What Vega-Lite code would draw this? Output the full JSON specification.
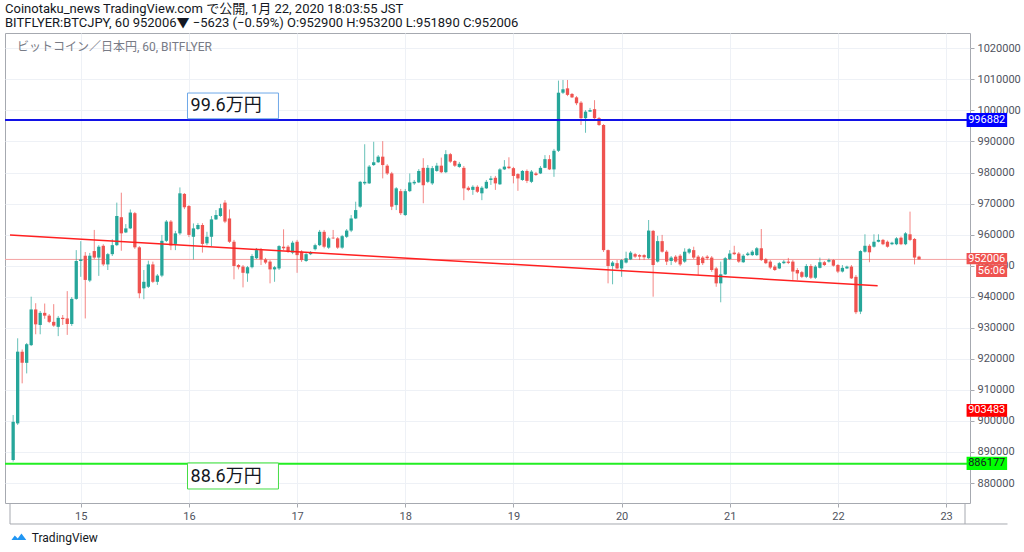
{
  "$schema": "https://vega.github.io/schema/vega-lite/v6.json",
  "width": 965,
  "height": 470,
  "autosize": {"type": "none"},
  "padding": {"left": 5, "top": 33, "right": 54, "bottom": 49},
  "background": "white",
  "config": {
    "font": "Roboto, 'Noto Sans CJK JP', sans-serif",
    "view": {"stroke": "#a6a9b0", "strokeWidth": 1},
    "axis": {
      "domain": false,
      "grid": true,
      "gridColor": "#eef1f6",
      "tickColor": "#a6a9b0",
      "tickSize": 4,
      "labelFontSize": 11,
      "labelColor": "#50535e",
      "labelPadding": 3,
      "zindex": 0
    },
    "axisY": {"tickCount": 15, "labelOverlap": false, "labelFlush": false, "format": "d"}
  },
  "title": {
    "text": "Coinotaku_news TradingView.com で公開, 1月 22, 2020 18:03:55 JST",
    "subtitle": "BITFLYER:BTCJPY, 60 952006▼ −5623 (−0.59%) O:952900 H:953200 L:951890 C:952006",
    "anchor": "start",
    "frame": "group",
    "fontSize": 13,
    "fontWeight": "normal",
    "color": "#131722",
    "subtitleFontSize": 13,
    "subtitleColor": "#131722",
    "subtitlePadding": 1,
    "offset": 3
  },
  "datasets": {
    "btc": [
      {"t": "2020-01-14T09:00", "o": 887400, "h": 901900, "l": 886900, "c": 899700},
      {"t": "2020-01-14T10:00", "o": 899200, "h": 926600, "l": 898700, "c": 922300},
      {"t": "2020-01-14T11:00", "o": 922300, "h": 923000, "l": 912100, "c": 918700},
      {"t": "2020-01-14T12:00", "o": 918700, "h": 925100, "l": 915300, "c": 924700},
      {"t": "2020-01-14T13:00", "o": 924400, "h": 940000, "l": 924100, "c": 935900},
      {"t": "2020-01-14T14:00", "o": 935900, "h": 937900, "l": 927900, "c": 931100},
      {"t": "2020-01-14T15:00", "o": 930900, "h": 935400, "l": 927900, "c": 934800},
      {"t": "2020-01-14T16:00", "o": 934800, "h": 937800, "l": 932900, "c": 933900},
      {"t": "2020-01-14T17:00", "o": 933900, "h": 934400, "l": 931500, "c": 931900},
      {"t": "2020-01-14T18:00", "o": 931900, "h": 937600, "l": 930300, "c": 930700},
      {"t": "2020-01-14T19:00", "o": 930300, "h": 933800, "l": 927300, "c": 933200},
      {"t": "2020-01-14T20:00", "o": 933200, "h": 934100, "l": 930900, "c": 932800},
      {"t": "2020-01-14T21:00", "o": 933000, "h": 941800, "l": 927700, "c": 931200},
      {"t": "2020-01-14T22:00", "o": 931200, "h": 939900, "l": 930600, "c": 939300},
      {"t": "2020-01-14T23:00", "o": 939300, "h": 955000, "l": 939000, "c": 951500},
      {"t": "2020-01-15T00:00", "o": 951500, "h": 957900, "l": 946400, "c": 952000},
      {"t": "2020-01-15T01:00", "o": 953200, "h": 954400, "l": 933000, "c": 945400},
      {"t": "2020-01-15T02:00", "o": 945200, "h": 954100, "l": 944700, "c": 953200},
      {"t": "2020-01-15T03:00", "o": 954700, "h": 961500, "l": 952100, "c": 952600},
      {"t": "2020-01-15T04:00", "o": 952600, "h": 956600, "l": 946700, "c": 956100},
      {"t": "2020-01-15T05:00", "o": 956400, "h": 956900, "l": 949900, "c": 950400},
      {"t": "2020-01-15T06:00", "o": 950400, "h": 954100, "l": 948600, "c": 953700},
      {"t": "2020-01-15T07:00", "o": 953700, "h": 958500, "l": 953100, "c": 956600},
      {"t": "2020-01-15T08:00", "o": 956600, "h": 970300, "l": 956300, "c": 966000},
      {"t": "2020-01-15T09:00", "o": 965600, "h": 973500, "l": 954800, "c": 960400},
      {"t": "2020-01-15T10:00", "o": 960700, "h": 963400, "l": 960500, "c": 962000},
      {"t": "2020-01-15T11:00", "o": 962000, "h": 968100, "l": 961800, "c": 967100},
      {"t": "2020-01-15T12:00", "o": 966900, "h": 967300, "l": 955400, "c": 955900},
      {"t": "2020-01-15T13:00", "o": 955900, "h": 956300, "l": 939500, "c": 941100},
      {"t": "2020-01-15T14:00", "o": 942700, "h": 948600, "l": 939200, "c": 944800},
      {"t": "2020-01-15T15:00", "o": 943200, "h": 951600, "l": 942800, "c": 950400},
      {"t": "2020-01-15T16:00", "o": 950400, "h": 951300, "l": 944400, "c": 944800},
      {"t": "2020-01-15T17:00", "o": 944800, "h": 947300, "l": 943800, "c": 946800},
      {"t": "2020-01-15T18:00", "o": 946800, "h": 959900, "l": 946300, "c": 958000},
      {"t": "2020-01-15T19:00", "o": 958000, "h": 964700, "l": 957600, "c": 964200},
      {"t": "2020-01-15T20:00", "o": 964200, "h": 964700, "l": 955000, "c": 956500},
      {"t": "2020-01-15T21:00", "o": 957000, "h": 961200, "l": 955000, "c": 960400},
      {"t": "2020-01-15T22:00", "o": 960400, "h": 975200, "l": 959900, "c": 973300},
      {"t": "2020-01-15T23:00", "o": 973100, "h": 973400, "l": 968200, "c": 968800},
      {"t": "2020-01-16T00:00", "o": 969200, "h": 969500, "l": 959200, "c": 959900},
      {"t": "2020-01-16T01:00", "o": 959300, "h": 963600, "l": 952000, "c": 962000},
      {"t": "2020-01-16T02:00", "o": 961800, "h": 963700, "l": 961500, "c": 963100},
      {"t": "2020-01-16T03:00", "o": 963100, "h": 963700, "l": 954200, "c": 957000},
      {"t": "2020-01-16T04:00", "o": 957200, "h": 960900, "l": 956600, "c": 959300},
      {"t": "2020-01-16T05:00", "o": 959300, "h": 966000, "l": 956300, "c": 964900},
      {"t": "2020-01-16T06:00", "o": 964900, "h": 967900, "l": 964700, "c": 966300},
      {"t": "2020-01-16T07:00", "o": 966000, "h": 969900, "l": 965700, "c": 968500},
      {"t": "2020-01-16T08:00", "o": 970300, "h": 971100, "l": 963700, "c": 964200},
      {"t": "2020-01-16T09:00", "o": 965200, "h": 968100, "l": 957300, "c": 957700},
      {"t": "2020-01-16T10:00", "o": 957700, "h": 958300, "l": 945600, "c": 949900},
      {"t": "2020-01-16T11:00", "o": 950200, "h": 950500, "l": 948800, "c": 949500},
      {"t": "2020-01-16T12:00", "o": 949700, "h": 950200, "l": 943000, "c": 947700},
      {"t": "2020-01-16T13:00", "o": 947500, "h": 949900, "l": 944800, "c": 949500},
      {"t": "2020-01-16T14:00", "o": 949500, "h": 953700, "l": 949100, "c": 953100},
      {"t": "2020-01-16T15:00", "o": 952400, "h": 955700, "l": 952100, "c": 955000},
      {"t": "2020-01-16T16:00", "o": 955000, "h": 955700, "l": 950200, "c": 952000},
      {"t": "2020-01-16T17:00", "o": 952000, "h": 952500, "l": 950500, "c": 951000},
      {"t": "2020-01-16T18:00", "o": 951300, "h": 951800, "l": 944300, "c": 948800},
      {"t": "2020-01-16T19:00", "o": 948800, "h": 949900, "l": 944800, "c": 949500},
      {"t": "2020-01-16T20:00", "o": 949100, "h": 956600, "l": 948600, "c": 956300},
      {"t": "2020-01-16T21:00", "o": 956100, "h": 961700, "l": 955000, "c": 955600},
      {"t": "2020-01-16T22:00", "o": 956100, "h": 956600, "l": 954100, "c": 954500},
      {"t": "2020-01-16T23:00", "o": 954200, "h": 958000, "l": 953700, "c": 957400},
      {"t": "2020-01-17T00:00", "o": 957700, "h": 958300, "l": 947700, "c": 953400},
      {"t": "2020-01-17T01:00", "o": 954500, "h": 955000, "l": 951200, "c": 951800},
      {"t": "2020-01-17T02:00", "o": 951500, "h": 954400, "l": 951200, "c": 953700},
      {"t": "2020-01-17T03:00", "o": 953700, "h": 954700, "l": 953400, "c": 954200},
      {"t": "2020-01-17T04:00", "o": 955300, "h": 957100, "l": 954900, "c": 956600},
      {"t": "2020-01-17T05:00", "o": 956600, "h": 961500, "l": 956300, "c": 960900},
      {"t": "2020-01-17T06:00", "o": 960900, "h": 961500, "l": 955600, "c": 956100},
      {"t": "2020-01-17T07:00", "o": 955800, "h": 959300, "l": 955400, "c": 958800},
      {"t": "2020-01-17T08:00", "o": 959000, "h": 961500, "l": 958600, "c": 958800},
      {"t": "2020-01-17T09:00", "o": 958800, "h": 959200, "l": 955400, "c": 955800},
      {"t": "2020-01-17T10:00", "o": 955800, "h": 959900, "l": 955400, "c": 959500},
      {"t": "2020-01-17T11:00", "o": 959300, "h": 961800, "l": 958900, "c": 961300},
      {"t": "2020-01-17T12:00", "o": 961300, "h": 966300, "l": 960800, "c": 965200},
      {"t": "2020-01-17T13:00", "o": 965200, "h": 970600, "l": 965000, "c": 967900},
      {"t": "2020-01-17T14:00", "o": 969000, "h": 977300, "l": 968600, "c": 977000},
      {"t": "2020-01-17T15:00", "o": 976500, "h": 989100, "l": 976000, "c": 977000},
      {"t": "2020-01-17T16:00", "o": 976500, "h": 982400, "l": 976300, "c": 981900},
      {"t": "2020-01-17T17:00", "o": 982400, "h": 989900, "l": 982100, "c": 983300},
      {"t": "2020-01-17T18:00", "o": 983300, "h": 985600, "l": 983100, "c": 985100},
      {"t": "2020-01-17T19:00", "o": 985100, "h": 990100, "l": 978100, "c": 982400},
      {"t": "2020-01-17T20:00", "o": 982200, "h": 982700, "l": 979200, "c": 979700},
      {"t": "2020-01-17T21:00", "o": 979700, "h": 980200, "l": 967900, "c": 969000},
      {"t": "2020-01-17T22:00", "o": 969500, "h": 975300, "l": 967900, "c": 974900},
      {"t": "2020-01-17T23:00", "o": 974000, "h": 974700, "l": 966300, "c": 966900},
      {"t": "2020-01-18T00:00", "o": 966300, "h": 974700, "l": 966000, "c": 974000},
      {"t": "2020-01-18T01:00", "o": 974000, "h": 979700, "l": 973700, "c": 976800},
      {"t": "2020-01-18T02:00", "o": 976500, "h": 977600, "l": 976000, "c": 977000},
      {"t": "2020-01-18T03:00", "o": 976800, "h": 981100, "l": 976600, "c": 980500},
      {"t": "2020-01-18T04:00", "o": 981500, "h": 984600, "l": 970100, "c": 975900},
      {"t": "2020-01-18T05:00", "o": 977000, "h": 982400, "l": 976600, "c": 981500},
      {"t": "2020-01-18T06:00", "o": 976500, "h": 982100, "l": 976000, "c": 981400},
      {"t": "2020-01-18T07:00", "o": 980500, "h": 983100, "l": 980200, "c": 982200},
      {"t": "2020-01-18T08:00", "o": 982200, "h": 984800, "l": 979800, "c": 980100},
      {"t": "2020-01-18T09:00", "o": 980100, "h": 987200, "l": 979800, "c": 985900},
      {"t": "2020-01-18T10:00", "o": 985900, "h": 986300, "l": 983100, "c": 983500},
      {"t": "2020-01-18T11:00", "o": 983700, "h": 984000, "l": 981800, "c": 982200},
      {"t": "2020-01-18T12:00", "o": 981800, "h": 983400, "l": 981500, "c": 982800},
      {"t": "2020-01-18T13:00", "o": 981500, "h": 982100, "l": 971100, "c": 974900},
      {"t": "2020-01-18T14:00", "o": 975100, "h": 975600, "l": 974000, "c": 974400},
      {"t": "2020-01-18T15:00", "o": 974400, "h": 975900, "l": 972800, "c": 975400},
      {"t": "2020-01-18T16:00", "o": 975400, "h": 975900, "l": 973400, "c": 973800},
      {"t": "2020-01-18T17:00", "o": 973300, "h": 975600, "l": 971100, "c": 975100},
      {"t": "2020-01-18T18:00", "o": 974900, "h": 977600, "l": 974700, "c": 977000},
      {"t": "2020-01-18T19:00", "o": 977600, "h": 978900, "l": 976000, "c": 978100},
      {"t": "2020-01-18T20:00", "o": 978300, "h": 978900, "l": 974400, "c": 976500},
      {"t": "2020-01-18T21:00", "o": 976200, "h": 981400, "l": 976000, "c": 981000},
      {"t": "2020-01-18T22:00", "o": 981000, "h": 984000, "l": 980800, "c": 981900},
      {"t": "2020-01-18T23:00", "o": 981900, "h": 984900, "l": 981100, "c": 981400},
      {"t": "2020-01-19T00:00", "o": 981400, "h": 981800, "l": 976500, "c": 978900},
      {"t": "2020-01-19T01:00", "o": 979500, "h": 979800, "l": 974100, "c": 978100},
      {"t": "2020-01-19T02:00", "o": 977600, "h": 980800, "l": 977300, "c": 980500},
      {"t": "2020-01-19T03:00", "o": 980500, "h": 981000, "l": 976600, "c": 977300},
      {"t": "2020-01-19T04:00", "o": 977000, "h": 980800, "l": 976600, "c": 980300},
      {"t": "2020-01-19T05:00", "o": 979700, "h": 980200, "l": 978900, "c": 979200},
      {"t": "2020-01-19T06:00", "o": 979700, "h": 982100, "l": 979500, "c": 981500},
      {"t": "2020-01-19T07:00", "o": 981500, "h": 985600, "l": 981400, "c": 984300},
      {"t": "2020-01-19T08:00", "o": 984300, "h": 985600, "l": 980800, "c": 981000},
      {"t": "2020-01-19T09:00", "o": 981000, "h": 987600, "l": 978600, "c": 987000},
      {"t": "2020-01-19T10:00", "o": 987000, "h": 1009600, "l": 986600, "c": 1005700},
      {"t": "2020-01-19T11:00", "o": 1005700, "h": 1009800, "l": 1005300, "c": 1006800},
      {"t": "2020-01-19T12:00", "o": 1007100, "h": 1009800, "l": 1004600, "c": 1005000},
      {"t": "2020-01-19T13:00", "o": 1005300, "h": 1005600, "l": 1004000, "c": 1004200},
      {"t": "2020-01-19T14:00", "o": 1004200, "h": 1004600, "l": 1001700, "c": 1002300},
      {"t": "2020-01-19T15:00", "o": 1002500, "h": 1003000, "l": 995300, "c": 997500},
      {"t": "2020-01-19T16:00", "o": 997500, "h": 1000100, "l": 992800, "c": 999600},
      {"t": "2020-01-19T17:00", "o": 999600, "h": 1000800, "l": 999500, "c": 1000100},
      {"t": "2020-01-19T18:00", "o": 1000400, "h": 1003300, "l": 997200, "c": 997500},
      {"t": "2020-01-19T19:00", "o": 997500, "h": 997900, "l": 995000, "c": 995300},
      {"t": "2020-01-19T20:00", "o": 995300, "h": 995600, "l": 954400, "c": 955000},
      {"t": "2020-01-19T21:00", "o": 955000, "h": 955200, "l": 944300, "c": 949900},
      {"t": "2020-01-19T22:00", "o": 949900, "h": 951500, "l": 944000, "c": 951000},
      {"t": "2020-01-19T23:00", "o": 950800, "h": 951800, "l": 948900, "c": 949100},
      {"t": "2020-01-20T00:00", "o": 949100, "h": 952100, "l": 946400, "c": 951800},
      {"t": "2020-01-20T01:00", "o": 951000, "h": 954500, "l": 950700, "c": 952400},
      {"t": "2020-01-20T02:00", "o": 952000, "h": 954700, "l": 951800, "c": 954200},
      {"t": "2020-01-20T03:00", "o": 953700, "h": 954100, "l": 952500, "c": 952900},
      {"t": "2020-01-20T04:00", "o": 953400, "h": 953700, "l": 951800, "c": 952900},
      {"t": "2020-01-20T05:00", "o": 953400, "h": 953700, "l": 951800, "c": 952700},
      {"t": "2020-01-20T06:00", "o": 952400, "h": 964700, "l": 952100, "c": 961300},
      {"t": "2020-01-20T07:00", "o": 961200, "h": 961500, "l": 940000, "c": 950200},
      {"t": "2020-01-20T08:00", "o": 951300, "h": 959600, "l": 951000, "c": 957900},
      {"t": "2020-01-20T09:00", "o": 957900, "h": 959900, "l": 954200, "c": 954500},
      {"t": "2020-01-20T10:00", "o": 954500, "h": 955000, "l": 950200, "c": 951300},
      {"t": "2020-01-20T11:00", "o": 951500, "h": 953100, "l": 950200, "c": 952600},
      {"t": "2020-01-20T12:00", "o": 952900, "h": 953400, "l": 950900, "c": 951300},
      {"t": "2020-01-20T13:00", "o": 953200, "h": 953700, "l": 949900, "c": 950400},
      {"t": "2020-01-20T14:00", "o": 951300, "h": 955600, "l": 950900, "c": 954500},
      {"t": "2020-01-20T15:00", "o": 954200, "h": 955700, "l": 953700, "c": 955300},
      {"t": "2020-01-20T16:00", "o": 955000, "h": 956100, "l": 952100, "c": 952600},
      {"t": "2020-01-20T17:00", "o": 952900, "h": 953400, "l": 947000, "c": 950200},
      {"t": "2020-01-20T18:00", "o": 952600, "h": 953100, "l": 950200, "c": 950800},
      {"t": "2020-01-20T19:00", "o": 952900, "h": 953400, "l": 951800, "c": 952400},
      {"t": "2020-01-20T20:00", "o": 952600, "h": 953100, "l": 948000, "c": 948600},
      {"t": "2020-01-20T21:00", "o": 949100, "h": 949600, "l": 943200, "c": 944300},
      {"t": "2020-01-20T22:00", "o": 944300, "h": 951300, "l": 938200, "c": 947200},
      {"t": "2020-01-20T23:00", "o": 947200, "h": 952800, "l": 947000, "c": 952400},
      {"t": "2020-01-21T00:00", "o": 952100, "h": 955000, "l": 951800, "c": 953900},
      {"t": "2020-01-21T01:00", "o": 954200, "h": 956400, "l": 953400, "c": 953700},
      {"t": "2020-01-21T02:00", "o": 953900, "h": 954400, "l": 950900, "c": 951300},
      {"t": "2020-01-21T03:00", "o": 951100, "h": 953700, "l": 950900, "c": 953200},
      {"t": "2020-01-21T04:00", "o": 953400, "h": 954400, "l": 953100, "c": 953900},
      {"t": "2020-01-21T05:00", "o": 953400, "h": 955000, "l": 953100, "c": 954500},
      {"t": "2020-01-21T06:00", "o": 953400, "h": 956000, "l": 953100, "c": 955600},
      {"t": "2020-01-21T07:00", "o": 955600, "h": 961800, "l": 951500, "c": 951800},
      {"t": "2020-01-21T08:00", "o": 952100, "h": 952500, "l": 950500, "c": 950800},
      {"t": "2020-01-21T09:00", "o": 951300, "h": 951800, "l": 948900, "c": 949400},
      {"t": "2020-01-21T10:00", "o": 949700, "h": 950200, "l": 948300, "c": 948600},
      {"t": "2020-01-21T11:00", "o": 949100, "h": 951200, "l": 948900, "c": 950800},
      {"t": "2020-01-21T12:00", "o": 950800, "h": 951800, "l": 950500, "c": 951300},
      {"t": "2020-01-21T13:00", "o": 951300, "h": 952500, "l": 950500, "c": 950900},
      {"t": "2020-01-21T14:00", "o": 951300, "h": 951800, "l": 945400, "c": 948100},
      {"t": "2020-01-21T15:00", "o": 948600, "h": 949200, "l": 945400, "c": 947500},
      {"t": "2020-01-21T16:00", "o": 947900, "h": 948300, "l": 946000, "c": 946400},
      {"t": "2020-01-21T17:00", "o": 946400, "h": 950500, "l": 946000, "c": 949900},
      {"t": "2020-01-21T18:00", "o": 949900, "h": 950500, "l": 945700, "c": 946100},
      {"t": "2020-01-21T19:00", "o": 946100, "h": 950200, "l": 945700, "c": 949700},
      {"t": "2020-01-21T20:00", "o": 949300, "h": 952600, "l": 949100, "c": 951100},
      {"t": "2020-01-21T21:00", "o": 951100, "h": 951500, "l": 949900, "c": 950200},
      {"t": "2020-01-21T22:00", "o": 951300, "h": 952300, "l": 951000, "c": 951800},
      {"t": "2020-01-21T23:00", "o": 951800, "h": 952100, "l": 949700, "c": 950000},
      {"t": "2020-01-22T00:00", "o": 950200, "h": 950500, "l": 947600, "c": 948100},
      {"t": "2020-01-22T01:00", "o": 948100, "h": 950200, "l": 947800, "c": 949300},
      {"t": "2020-01-22T02:00", "o": 949100, "h": 950000, "l": 948900, "c": 949700},
      {"t": "2020-01-22T03:00", "o": 949700, "h": 950200, "l": 945700, "c": 945900},
      {"t": "2020-01-22T04:00", "o": 946400, "h": 947000, "l": 934400, "c": 935000},
      {"t": "2020-01-22T05:00", "o": 935200, "h": 955000, "l": 934400, "c": 954700},
      {"t": "2020-01-22T06:00", "o": 954500, "h": 960100, "l": 954200, "c": 956400},
      {"t": "2020-01-22T07:00", "o": 956400, "h": 956900, "l": 951100, "c": 954300},
      {"t": "2020-01-22T08:00", "o": 956100, "h": 960100, "l": 955800, "c": 957700},
      {"t": "2020-01-22T09:00", "o": 957700, "h": 960100, "l": 957500, "c": 958300},
      {"t": "2020-01-22T10:00", "o": 958300, "h": 958600, "l": 956600, "c": 956900},
      {"t": "2020-01-22T11:00", "o": 957700, "h": 958100, "l": 955800, "c": 956100},
      {"t": "2020-01-22T12:00", "o": 956900, "h": 957700, "l": 956600, "c": 957400},
      {"t": "2020-01-22T13:00", "o": 956900, "h": 959200, "l": 956600, "c": 958800},
      {"t": "2020-01-22T14:00", "o": 959000, "h": 959400, "l": 956600, "c": 956900},
      {"t": "2020-01-22T15:00", "o": 956900, "h": 960800, "l": 956600, "c": 960400},
      {"t": "2020-01-22T16:00", "o": 960100, "h": 967400, "l": 957900, "c": 958300},
      {"t": "2020-01-22T17:00", "o": 958600, "h": 958900, "l": 950400, "c": 952600},
      {"t": "2020-01-22T18:00", "o": 952900, "h": 953200, "l": 951890, "c": 952006}
    ]
  },
  "layer": [
    {
      "data": {"values": [{}]},
      "mark": {"type": "rule", "color": "#f5a3a3", "strokeWidth": 1},
      "encoding": {
        "y": {"datum": 952006, "type": "quantitative", "title": null}
      }
    },
    {
      "data": {"name": "btc"},
      "mark": {"type": "rule", "strokeWidth": 1, "opacity": 0.7},
      "encoding": {
        "x": {
          "field": "t", "type": "temporal", "title": null,
          "scale": {
            "domain": [
              {"year": 2020, "month": 1, "date": 14, "hours": 8, "minutes": 18},
              {"year": 2020, "month": 1, "date": 23, "hours": 4, "minutes": 12}
            ],
            "nice": false
          },
          "axis": {"orient": "bottom", "format": "%-d", "tickCount": {"interval": "day", "step": 1}, "labelFlush": false, "labelOverlap": false}
        },
        "y": {
          "field": "l", "type": "quantitative", "title": null,
          "scale": {"domain": [873560, 1024930], "zero": false, "nice": false},
          "axis": {"orient": "right"}
        },
        "y2": {"field": "h"},
        "color": {"condition": {"test": "datum.c >= datum.o", "value": "#26a69a"}, "value": "#ef5350"}
      }
    },
    {
      "data": {"name": "btc"},
      "mark": {"type": "bar", "width": 3.3},
      "encoding": {
        "x": {"field": "t", "type": "temporal", "title": null},
        "y": {"field": "o", "type": "quantitative", "title": null},
        "y2": {"field": "c"},
        "color": {"condition": {"test": "datum.c >= datum.o", "value": "#26a69a"}, "value": "#ef5350"}
      }
    },
    {
      "data": {"values": [{}]},
      "mark": {"type": "rule", "color": "#1212e6", "strokeWidth": 2},
      "encoding": {
        "y": {"datum": 996882, "type": "quantitative", "title": null}
      }
    },
    {
      "data": {"values": [{}]},
      "mark": {"type": "rule", "color": "#22ee22", "strokeWidth": 2},
      "encoding": {
        "y": {"datum": 886177, "type": "quantitative", "title": null}
      }
    },
    {
      "data": {"values": [{}]},
      "mark": {"type": "rule", "color": "#ff2020", "strokeWidth": 1.5},
      "encoding": {
        "x": {"datum": {"year": 2020, "month": 1, "date": 14, "hours": 8, "minutes": 18}, "type": "temporal", "title": null},
        "x2": {"datum": {"year": 2020, "month": 1, "date": 22, "hours": 8, "minutes": 49}},
        "y": {"datum": 959870, "type": "quantitative", "title": null},
        "y2": {"datum": 943540}
      }
    },
    {
      "data": {"values": [{}]},
      "mark": {"type": "rect", "fill": "white", "stroke": "#6fa8e8", "strokeWidth": 1},
      "encoding": {
        "x": {"datum": {"year": 2020, "month": 1, "date": 15, "hours": 23, "minutes": 41}, "type": "temporal", "title": null},
        "x2": {"datum": {"year": 2020, "month": 1, "date": 16, "hours": 19, "minutes": 52}},
        "y": {"datum": 1005600, "type": "quantitative", "title": null},
        "y2": {"datum": 997330}
      }
    },
    {
      "data": {"values": [{}]},
      "mark": {"type": "rect", "fill": "white", "stroke": "#44dd44", "strokeWidth": 1},
      "encoding": {
        "x": {"datum": {"year": 2020, "month": 1, "date": 15, "hours": 23, "minutes": 41}, "type": "temporal", "title": null},
        "x2": {"datum": {"year": 2020, "month": 1, "date": 16, "hours": 19, "minutes": 52}},
        "y": {"datum": 886440, "type": "quantitative", "title": null},
        "y2": {"datum": 878070}
      }
    },
    {
      "data": {"values": [{}]},
      "mark": {"type": "text", "align": "left", "baseline": "middle", "fontSize": 18, "color": "#131722"},
      "encoding": {
        "x": {"datum": {"year": 2020, "month": 1, "date": 16, "hours": 0, "minutes": 22}, "type": "temporal", "title": null},
        "y": {"datum": 1001417, "type": "quantitative", "title": null},
        "text": {"value": "99.6万円"}
      }
    },
    {
      "data": {"values": [{}]},
      "mark": {"type": "text", "align": "left", "baseline": "middle", "fontSize": 18, "color": "#131722"},
      "encoding": {
        "x": {"datum": {"year": 2020, "month": 1, "date": 16, "hours": 0, "minutes": 22}, "type": "temporal", "title": null},
        "y": {"datum": 882030, "type": "quantitative", "title": null},
        "text": {"value": "88.6万円"}
      }
    },
    {
      "data": {"values": [{}]},
      "mark": {"type": "text", "align": "left", "baseline": "middle", "fontSize": 12, "color": "#787b86"},
      "encoding": {
        "x": {"datum": {"year": 2020, "month": 1, "date": 14, "hours": 9, "minutes": 50}, "type": "temporal", "title": null},
        "y": {"datum": 1020418, "type": "quantitative", "title": null},
        "text": {"value": "ビットコイン／日本円, 60, BITFLYER"}
      }
    },
    {
      "data": {"values": [{}]},
      "mark": {"type": "rect", "fill": "#0000ff"},
      "encoding": {
        "x": {"datum": {"year": 2020, "month": 1, "date": 23, "hours": 4, "minutes": 33}, "type": "temporal", "title": null},
        "x2": {"datum": {"year": 2020, "month": 1, "date": 23, "hours": 13, "minutes": 33}},
        "y": {"datum": 999140, "type": "quantitative", "title": null},
        "y2": {"datum": 994620}
      }
    },
    {
      "data": {"values": [{}]},
      "mark": {"type": "rect", "fill": "#ef5350"},
      "encoding": {
        "x": {"datum": {"year": 2020, "month": 1, "date": 23, "hours": 4, "minutes": 33}, "type": "temporal", "title": null},
        "x2": {"datum": {"year": 2020, "month": 1, "date": 23, "hours": 13, "minutes": 33}},
        "y": {"datum": 954100, "type": "quantitative", "title": null},
        "y2": {"datum": 950430}
      }
    },
    {
      "data": {"values": [{}]},
      "mark": {"type": "rect", "fill": "#ef5350"},
      "encoding": {
        "x": {"datum": {"year": 2020, "month": 1, "date": 23, "hours": 6, "minutes": 40}, "type": "temporal", "title": null},
        "x2": {"datum": {"year": 2020, "month": 1, "date": 23, "hours": 13, "minutes": 33}},
        "y": {"datum": 950430, "type": "quantitative", "title": null},
        "y2": {"datum": 946340}
      }
    },
    {
      "data": {"values": [{}]},
      "mark": {"type": "rect", "fill": "#ff0000"},
      "encoding": {
        "x": {"datum": {"year": 2020, "month": 1, "date": 23, "hours": 4, "minutes": 33}, "type": "temporal", "title": null},
        "x2": {"datum": {"year": 2020, "month": 1, "date": 23, "hours": 13, "minutes": 33}},
        "y": {"datum": 905440, "type": "quantitative", "title": null},
        "y2": {"datum": 901350}
      }
    },
    {
      "data": {"values": [{}]},
      "mark": {"type": "rect", "fill": "#00ff00"},
      "encoding": {
        "x": {"datum": {"year": 2020, "month": 1, "date": 23, "hours": 4, "minutes": 33}, "type": "temporal", "title": null},
        "x2": {"datum": {"year": 2020, "month": 1, "date": 23, "hours": 13, "minutes": 33}},
        "y": {"datum": 888470, "type": "quantitative", "title": null},
        "y2": {"datum": 884190}
      }
    },
    {
      "data": {"values": [{}]},
      "mark": {"type": "text", "align": "center", "baseline": "middle", "fontSize": 11, "color": "white"},
      "encoding": {
        "x": {"datum": {"year": 2020, "month": 1, "date": 23, "hours": 9, "minutes": 1}, "type": "temporal", "title": null},
        "y": {"datum": 996882, "type": "quantitative", "title": null},
        "text": {"value": "996882"}
      }
    },
    {
      "data": {"values": [{}]},
      "mark": {"type": "text", "align": "center", "baseline": "middle", "fontSize": 11, "color": "white"},
      "encoding": {
        "x": {"datum": {"year": 2020, "month": 1, "date": 23, "hours": 9, "minutes": 1}, "type": "temporal", "title": null},
        "y": {"datum": 952265, "type": "quantitative", "title": null},
        "text": {"value": "952006"}
      }
    },
    {
      "data": {"values": [{}]},
      "mark": {"type": "text", "align": "center", "baseline": "middle", "fontSize": 11, "color": "white"},
      "encoding": {
        "x": {"datum": {"year": 2020, "month": 1, "date": 23, "hours": 10, "minutes": 5}, "type": "temporal", "title": null},
        "y": {"datum": 948385, "type": "quantitative", "title": null},
        "text": {"value": "56:06"}
      }
    },
    {
      "data": {"values": [{}]},
      "mark": {"type": "text", "align": "center", "baseline": "middle", "fontSize": 11, "color": "white"},
      "encoding": {
        "x": {"datum": {"year": 2020, "month": 1, "date": 23, "hours": 9, "minutes": 1}, "type": "temporal", "title": null},
        "y": {"datum": 903395, "type": "quantitative", "title": null},
        "text": {"value": "903483"}
      }
    },
    {
      "data": {"values": [{}]},
      "mark": {"type": "text", "align": "center", "baseline": "middle", "fontSize": 11, "color": "#131722"},
      "encoding": {
        "x": {"datum": {"year": 2020, "month": 1, "date": 23, "hours": 9, "minutes": 1}, "type": "temporal", "title": null},
        "y": {"datum": 886330, "type": "quantitative", "title": null},
        "text": {"value": "886177"}
      }
    },
    {
      "data": {"values": [{}]},
      "mark": {"type": "rule", "color": "#a6a9b0", "strokeWidth": 1},
      "encoding": {
        "x": {"datum": {"year": 2020, "month": 1, "date": 14, "hours": 8, "minutes": 18}, "type": "temporal", "title": null},
        "x2": {"datum": {"year": 2020, "month": 1, "date": 23, "hours": 13, "minutes": 38}},
        "y": {"datum": 866800, "type": "quantitative", "title": null}
      }
    },
    {
      "data": {"values": [{}]},
      "mark": {"type": "rule", "color": "#a6a9b0", "strokeWidth": 1},
      "encoding": {
        "x": {"datum": {"year": 2020, "month": 1, "date": 14, "hours": 8, "minutes": 18}, "type": "temporal", "title": null},
        "y": {"datum": 873560, "type": "quantitative", "title": null},
        "y2": {"datum": 866800}
      }
    },
    {
      "data": {"values": [{}]},
      "mark": {"type": "rule", "color": "#a6a9b0", "strokeWidth": 1},
      "encoding": {
        "x": {"datum": {"year": 2020, "month": 1, "date": 23, "hours": 4, "minutes": 12}, "type": "temporal", "title": null},
        "y": {"datum": 873560, "type": "quantitative", "title": null},
        "y2": {"datum": 866800}
      }
    },
    {
      "data": {"values": [{}]},
      "mark": {"type": "point", "filled": true, "size": 220, "color": "#2196f3", "opacity": 1, "shape": "M-1,0.45 L-0.55,-0.15 L-0.15,0.25 L0.35,-0.45 L1,0.45 Z"},
      "encoding": {
        "x": {"datum": {"year": 2020, "month": 1, "date": 14, "hours": 10, "minutes": 16}, "type": "temporal", "title": null},
        "y": {"datum": 862700, "type": "quantitative", "title": null}
      }
    },
    {
      "data": {"values": [{}]},
      "mark": {"type": "text", "align": "left", "baseline": "middle", "fontSize": 12, "color": "#131722"},
      "encoding": {
        "x": {"datum": {"year": 2020, "month": 1, "date": 14, "hours": 13, "minutes": 8}, "type": "temporal", "title": null},
        "y": {"datum": 862380, "type": "quantitative", "title": null},
        "text": {"value": "TradingView"}
      }
    }
  ]
}
